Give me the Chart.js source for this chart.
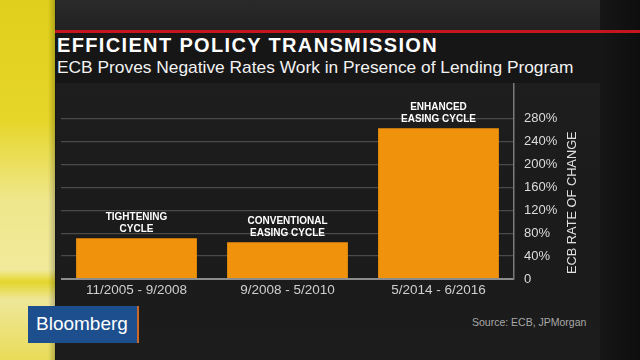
<!DOCTYPE html>
<html>
<head>
<meta charset="utf-8">
<script src="https://cdn.jsdelivr.net/npm/chart.js@4"></script>
<style>
  html, body { margin:0; padding:0; width:640px; height:360px; overflow:hidden; }
  body { background: linear-gradient(180deg, #2a2a2a 0px, #1f1f1f 40px, #1b1b1b 200px, #1c1c1c 360px); position:relative; font-family: "Liberation Sans", Arial, sans-serif; }
  #strip { position:absolute; left:0; top:0; width:55px; height:360px;
    background: linear-gradient(180deg, #e0cf1c 0px, #e6d628 120px, #efe78c 200px, #f1ea9a 270px, #e4d62c 282px, #efe79a 300px, #e8dc58 360px); }
  #stripEdge { position:absolute; left:48px; top:0; width:8px; height:360px; background: linear-gradient(90deg, rgba(0,0,0,0), rgba(0,0,0,0.25)); }
  #rightShade { position:absolute; left:600px; top:0; width:40px; height:360px; background: linear-gradient(90deg, #161616, #0e0e0e); }
  #redline { position:absolute; left:55px; top:30px; width:585px; height:3px; background:#c4161c; }
  #band { position:absolute; left:55px; top:33px; width:545px; height:50px; background:#161616; }
  #title { position:absolute; left:57px; top:34px; color:#fff; font-weight:bold; font-size:20px; letter-spacing:1.35px; white-space:nowrap; }
  #subtitle { position:absolute; left:57px; top:57px; color:#f2f2f2; font-size:17.35px; white-space:nowrap; }
  #logo { position:absolute; left:28px; top:306px; width:109px; height:37px; background:#1d4f8f; }
  #logoText { position:absolute; left:36px; top:313px; color:#fff; font-size:19px; white-space:nowrap; }
  #logoBar { position:absolute; left:137px; top:306px; width:2px; height:37px; background:#c8692c; }
  #source { position:absolute; left:472px; top:316px; color:#a8a8a8; font-size:10.5px; white-space:nowrap; }
  #wrap { position:absolute; left:0; top:0; width:640px; height:360px; }
</style>
</head>
<body>
<div id="strip"></div>
<div id="stripEdge"></div>
<div id="rightShade"></div>
<div id="band"></div>
<div id="redline"></div>
<div id="title">EFFICIENT POLICY TRANSMISSION</div>
<div id="subtitle">ECB Proves Negative Rates Work in Presence of Lending Program</div>
<div id="logo"></div>
<div id="logoText">Bloomberg</div>
<div id="logoBar"></div>
<div id="source">Source: ECB, JPMorgan</div>
<div id="wrap"><canvas id="c" width="640" height="360"></canvas></div>
<script>
const categories = ['11/2005 - 9/2008', '9/2008 - 5/2010', '5/2014 - 6/2016'];
const barLabels = [['TIGHTENING', 'CYCLE'], ['CONVENTIONAL', 'EASING CYCLE'], ['ENHANCED', 'EASING CYCLE']];
const values = [71, 64, 263];
const yTickMax = 280;
const yStep = 40;
const yAxisTitle = 'ECB RATE OF CHANGE';

const barLabelPlugin = {
  id: 'barLabels',
  afterDatasetsDraw(chart) {
    const ctx = chart.ctx;
    const meta = chart.getDatasetMeta(0);
    ctx.save();
    ctx.fillStyle = '#ffffff';
    ctx.font = 'bold 10px "Liberation Sans", Arial, sans-serif';
    ctx.textAlign = 'center';
    ctx.textBaseline = 'middle';
    meta.data.forEach((bar, i) => {
      const lines = barLabels[i];
      ctx.fillText(lines[0], bar.x, bar.y - 21);
      ctx.fillText(lines[1], bar.x, bar.y - 9);
    });
    ctx.restore();
  },
  afterDraw(chart) {
    const ctx = chart.ctx;
    const ys = chart.scales.y;
    const cx = chart.chartArea.right + 58;
    const cy = (ys.getPixelForValue(0) + ys.getPixelForValue(yTickMax)) / 2 + 4;
    ctx.save();
    ctx.translate(cx, cy);
    ctx.rotate(-Math.PI / 2);
    ctx.fillStyle = '#e0e0e0';
    ctx.font = '12.8px "Liberation Sans", Arial, sans-serif';
    ctx.textAlign = 'center';
    ctx.textBaseline = 'middle';
    ctx.fillText(yAxisTitle, 0, 0);
    ctx.restore();
  }
};

new Chart(document.getElementById('c'), {
  type: 'bar',
  data: {
    labels: categories,
    datasets: [{
      data: values,
      backgroundColor: '#f0920c',
      borderWidth: 0,
      categoryPercentage: 0.8,
      barPercentage: 1.0
    }]
  },
  options: {
    responsive: false,
    animation: false,
    events: [],
    layout: { padding: { left: 61, top: 84, right: 0, bottom: 56 } },
    plugins: { legend: { display: false }, tooltip: { enabled: false }, title: { display: false } },
    scales: {
      x: {
        grid: { display: false, drawTicks: false },
        border: { display: false },
        ticks: { color: '#cfcfcf', font: { size: 13.5, family: '"Liberation Sans", Arial, sans-serif' }, padding: 3, maxRotation: 0 },
        afterFit(scale) { scale.height = 25; }
      },
      y: {
        position: 'right',
        min: 0,
        max: 340,
        afterBuildTicks(scale) { scale.ticks = scale.ticks.filter(t => t.value <= yTickMax); },
        ticks: {
          stepSize: yStep,
          color: '#dcdcdc',
          padding: 10,
          font: { size: 13, family: '"Liberation Sans", Arial, sans-serif' },
          callback: v => v === 0 ? '0' : v + '%'
        },
        grid: {
          drawTicks: false,
          color: ctx => ctx.tick && ctx.tick.value === 0 ? '#8c8c8c' : '#4a4a4a',
          lineWidth: ctx => ctx.tick && ctx.tick.value === 0 ? 2 : 1.2
        },
        border: { display: true, color: '#7a7a7a', width: 1.5 },
        afterFit(scale) { scale.width = 126; }
      }
    }
  },
  plugins: [barLabelPlugin]
});
</script>
</body>
</html>
